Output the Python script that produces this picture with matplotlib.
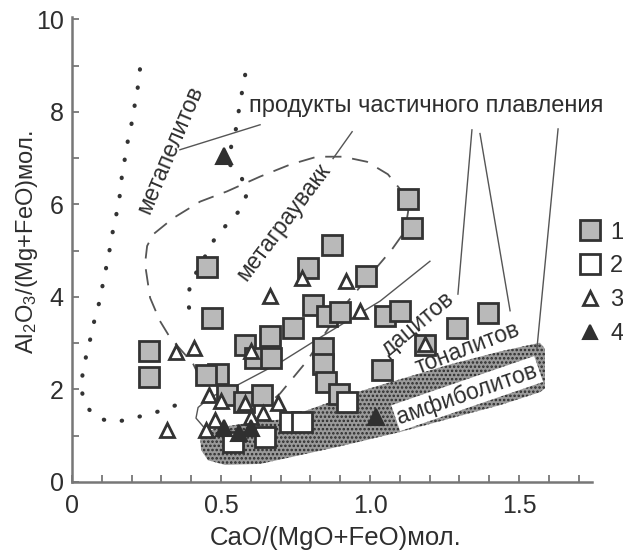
import matplotlib
matplotlib.use("Agg")
import matplotlib.pyplot as plt
from matplotlib.lines import Line2D

plt.rcParams['font.family'] = ['Liberation Sans', 'DejaVu Sans']
plt.rcParams['mathtext.fontset'] = 'custom'
plt.rcParams['mathtext.rm'] = 'Liberation Sans'
plt.rcParams['mathtext.default'] = 'regular'
plt.rcParams['hatch.linewidth'] = 1.2

INK = '#2e2e2e'

# sample groups: CaO/(MgO+FeO) vs Al2O3/(MgO+FeO), molar
grp1_x = [0.453, 0.470, 0.258, 0.258, 0.490, 0.450, 0.872, 0.792, 0.987, 1.128,
          1.141, 0.809, 0.856, 0.899, 0.742, 0.664, 0.581, 0.614, 0.668, 0.842,
          0.842, 0.852, 0.896, 1.050, 1.101, 1.292, 1.396, 1.185, 1.040, 0.520,
          0.577, 0.638]
grp1_y = [4.65, 3.55, 2.84, 2.26, 2.34, 2.32, 5.12, 4.62, 4.45, 6.11,
          5.48, 3.83, 3.59, 3.68, 3.33, 3.16, 2.95, 2.69, 2.69, 2.90,
          2.56, 2.15, 1.91, 3.59, 3.70, 3.33, 3.66, 2.95, 2.41, 1.87,
          1.72, 1.87]

grp2_x = [0.732, 0.772, 0.648, 0.540, 0.923]
grp2_y = [1.29, 1.29, 0.97, 0.86, 1.72]

grp3_x = [0.665, 0.772, 0.920, 0.966, 0.350, 0.410, 0.320, 0.600, 0.460, 0.500,
          0.580, 0.690, 0.480, 0.450, 1.185, 0.640, 0.600]
grp3_y = [4.02, 4.41, 4.34, 3.70, 2.80, 2.90, 1.12, 2.84, 1.87, 1.76,
          1.70, 1.70, 1.33, 1.12, 2.98, 1.48, 1.40]

grp4_x = [0.510, 1.020, 0.510, 0.560, 0.600]
grp4_y = [7.05, 1.40, 1.16, 1.05, 1.16]

# field of metapelite melts (dotted outline, two branches)
pel_left_x = [0.228, 0.221, 0.211, 0.201, 0.188, 0.178, 0.168, 0.161, 0.151, 0.138,
              0.128, 0.117, 0.104, 0.094, 0.077, 0.064, 0.050, 0.037, 0.030, 0.044,
              0.084, 0.144, 0.205, 0.268, 0.322, 0.379]
pel_left_y = [8.92, 8.54, 8.17, 7.78, 7.40, 7.01, 6.65, 6.22, 5.85, 5.46,
              5.08, 4.71, 4.30, 3.94, 3.55, 3.16, 2.80, 2.41, 2.04, 1.66,
              1.38, 1.29, 1.38, 1.48, 1.59, 1.74]
pel_right_x = [0.581, 0.570, 0.560, 0.550, 0.534, 0.530, 0.570, 0.587, 0.560, 0.520,
               0.480, 0.396, 0.389, 0.403]
pel_right_y = [8.80, 8.41, 8.04, 7.63, 7.25, 6.86, 6.56, 6.22, 5.85, 5.57,
               5.27, 4.28, 3.87, 3.48]

# field of metagraywacke melts (dashed loop)
gw_x = [0.430, 0.406, 0.329, 0.295, 0.262, 0.245, 0.252, 0.272, 0.339, 0.430,
        0.520, 0.631, 0.732, 0.822, 0.909, 0.990, 1.060, 1.107, 1.128, 1.117,
        1.074, 0.983, 0.899, 0.789, 0.698, 0.664]
gw_y = [2.24, 2.56, 3.12, 3.48, 3.98, 4.71, 5.10, 5.35, 5.70, 6.06,
        6.28, 6.60, 6.86, 7.03, 7.03, 6.92, 6.65, 6.28, 5.85, 5.42,
        5.03, 4.34, 3.70, 2.62, 1.91, 1.72]

# dacite melt field boundary (solid)
dac_x = [1.201, 1.034, 0.832, 0.698, 0.554, 0.463, 0.423, 0.416, 0.440]
dac_y = [4.77, 3.91, 3.12, 2.58, 2.09, 1.83, 1.61, 1.38, 1.20]

# amphibolite / tonalite melt field (stippled)
amph_x = [0.430, 0.480, 0.564, 0.698, 0.789, 0.966, 1.101, 1.268, 1.436, 1.570,
          1.587, 1.587, 1.570, 1.436, 1.302, 1.101, 0.899, 0.765, 0.631, 0.513,
          0.456, 0.433]
amph_y = [0.99, 1.16, 1.25, 1.35, 1.55, 1.96, 2.22, 2.54, 2.82, 3.01,
          2.88, 2.02, 1.94, 1.66, 1.43, 1.08, 0.77, 0.58, 0.39, 0.37,
          0.47, 0.69]

# leader lines from the caption: (x0, y0, x1, y1)
leaders = [(0.631, 7.72, 0.362, 7.18),
           (0.940, 7.57, 0.876, 6.99),
           (1.342, 7.61, 1.295, 4.06),
           (1.369, 7.53, 1.470, 3.70),
           (1.631, 7.63, 1.560, 2.88)]

# field labels: text, x, y, rotation
field_labels = [('метапелитов', 0.329, 7.18, 67),
                ('метаграувакк', 0.708, 5.63, 53),
                ('дацитов', 1.161, 3.42, 40),
                ('тоналитов', 1.329, 2.88, 21)]

fig = plt.figure(figsize=(6.23, 5.54), dpi=100)
ax = fig.add_axes([0.1156, 0.130, 0.8347, 0.8394])

ax.fill(amph_x, amph_y, facecolor='#9a9a9a', edgecolor='#2a2a2a', linewidth=0,
        hatch='....', zorder=1)
ax.text(1.326, 1.91, 'амфиболитов', rotation=19, ha='center', va='center',
        fontsize=16.5, color=INK, zorder=2,
        bbox=dict(facecolor='white', edgecolor='none', pad=1.5))

dots = dict(color='#333333', lw=3.0, linestyle=(0, (0.1, 4.3)),
            dash_capstyle='round', zorder=2)
ax.plot(pel_left_x, pel_left_y, **dots)
ax.plot(pel_right_x, pel_right_y, **dots)
ax.plot(gw_x, gw_y, color='#555555', lw=1.3, linestyle=(0, (9, 6)), zorder=2)
ax.plot(dac_x, dac_y, color='#555555', lw=1.0, zorder=2)
for x0, y0, x1, y1 in leaders:
    ax.plot([x0, x1], [y0, y1], color='#555555', lw=1.0, zorder=2)

ax.text(0.594, 8.13, 'продукты частичного плавления', ha='left', va='center',
        fontsize=17, color=INK)
for txt, x, y, rot in field_labels:
    ax.text(x, y, txt, rotation=rot, ha='center', va='center',
            fontsize=16.5, color=INK, zorder=3)

sq = dict(marker='s', markersize=14.5, markeredgewidth=2.0,
          markeredgecolor='#333333', linestyle='none', zorder=4)
ax.plot(grp1_x, grp1_y, markerfacecolor='#b9b9b9', **sq)
ax.plot(grp2_x, grp2_y, markerfacecolor='white', **sq)
ax.plot(grp3_x, grp3_y, marker='^', markersize=10.5, markeredgewidth=2.0,
        markerfacecolor='white', markeredgecolor='#333333', linestyle='none',
        zorder=5)
ax.plot(grp4_x, grp4_y, marker='^', markersize=11, markeredgewidth=1.5,
        markerfacecolor='#303030', markeredgecolor='#303030', linestyle='none',
        zorder=5)

ax.set_xlim(0, 1.745)
ax.set_ylim(0, 10.05)
ax.set_xticks([0, 0.5, 1.0, 1.5])
ax.set_xticklabels(['0', '0.5', '1.0', '1.5'])
ax.set_xticks([i / 10 for i in range(18)], minor=True)
ax.set_yticks([0, 2, 4, 6, 8, 10])
ax.set_yticks(range(11), minor=True)
for side in ('top', 'right'):
    ax.spines[side].set_visible(False)
for side in ('left', 'bottom'):
    ax.spines[side].set_color('#777777')
    ax.spines[side].set_linewidth(1.8)
ax.tick_params(which='both', direction='in', length=5, width=1.3,
               color='#777777', labelcolor=INK, labelsize=18)
ax.tick_params(axis='x', which='both', pad=9)
ax.tick_params(axis='y', which='both', pad=6)

ax.set_xlabel('CaO/(MgO+FeO)мол.', fontsize=18.5, color=INK)
ax.set_ylabel('Al$_2$O$_3$/(Mg+FeO)мол.', fontsize=17, color=INK)
ax.xaxis.set_label_coords(0.506, -0.095)
ax.yaxis.set_label_coords(-0.062, 0.515)

handles = [
    Line2D([], [], marker='s', markersize=14.5, markeredgewidth=2.0,
           markerfacecolor='#b9b9b9', markeredgecolor='#333333', linestyle='none'),
    Line2D([], [], marker='s', markersize=14.5, markeredgewidth=2.0,
           markerfacecolor='white', markeredgecolor='#333333', linestyle='none'),
    Line2D([], [], marker='^', markersize=10, markeredgewidth=2.0,
           markerfacecolor='white', markeredgecolor='#333333', linestyle='none'),
    Line2D([], [], marker='^', markersize=10, markeredgewidth=1.5,
           markerfacecolor='#303030', markeredgecolor='#303030', linestyle='none'),
]
fig.legend(handles, ['1', '2', '3', '4'], loc='upper left',
           bbox_to_anchor=(0.932, 0.6), frameon=False, fontsize=17,
           handlelength=0.8, handletextpad=0.45, labelspacing=0.5,
           borderaxespad=0, borderpad=0, labelcolor=INK)

fig.savefig('out.png', dpi=100)
